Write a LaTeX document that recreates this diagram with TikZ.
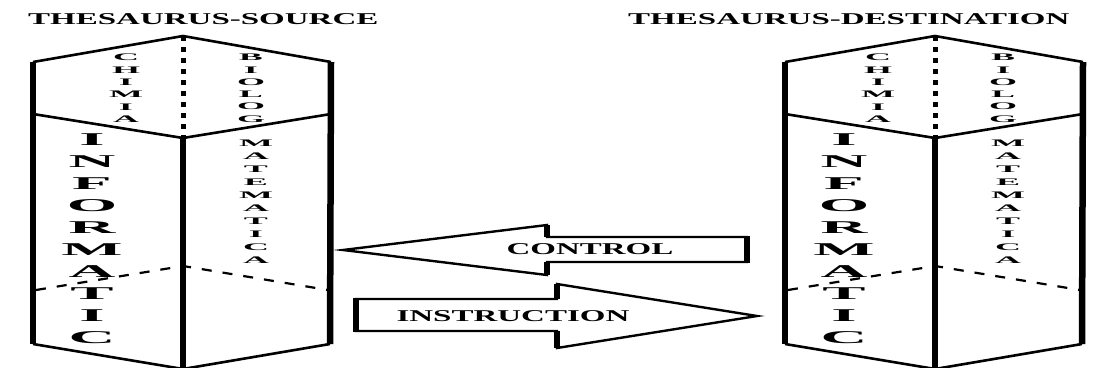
\documentclass[tikz,border=0pt]{standalone}
\usepackage{graphicx}
\usepackage{fontspec}
\setmainfont{Liberation Serif}
\newfontfamily\widefont{Liberation Serif}[FakeStretch=2]
\newfontfamily\stackfont{Liberation Serif}[FakeStretch=3.6]
\usetikzlibrary{positioning}

% one thesaurus drawn as a hexagonal prism, faces labelled by subject
\tikzset{
  thesaurus/.pic={
    % corners of the prism
    \coordinate (-top) at (183,36);
    \coordinate (-ul)  at (33,62);
    \coordinate (-ur)  at (331,62);
    \coordinate (-ml)  at (33,114);
    \coordinate (-mc)  at (183,138);
    \coordinate (-mr)  at (331,114);
    \coordinate (-dl)  at (36,290);
    \coordinate (-dc)  at (183,266);
    \coordinate (-dr)  at (328,290);
    \coordinate (-bl)  at (33,344);
    \coordinate (-bc)  at (183,369);
    \coordinate (-br)  at (330,344);

    % outline
    \draw[rim] (-ul) -- (-top) -- (-ur);
    \draw[rim] (-ml) -- (-mc) -- (-mr);
    \draw[rim] (-bl) -- (-bc) -- (-br);
    \draw[spine] (-top) -- (-mc);
    \draw[backline] (-dl) -- (-dc) -- (-dr);
    \draw[pillar] (-ul) -- (-bl);
    \draw[pillar] (-mc) -- (-bc);
    \draw[pillar] (-ur) -- (-br);

    % subjects
    \node[minor, anchor=north] (-chim) at (126,54)  {C\\H\\I\\M\\I\\A};
    \node[minor, anchor=north] (-biol) at (251,54)  {B\\I\\O\\L\\O\\G};
    \node[major, anchor=north] (-info) at (92,134)  {I\\N\\F\\O\\R\\M\\A\\T\\I\\C};
    \node[minor, anchor=north, font=\stackfont\bfseries\fontsize{10}{13}\selectfont]
      (-mate) at (256,140) {M\\A\\T\\E\\M\\A\\T\\I\\C\\A};
  }
}

\begin{document}
\begin{tikzpicture}[x=1pt, y=-1pt,
  pillar/.style={line width=6.5pt},
  rim/.style={line width=2.6pt},
  spine/.style={line width=5pt, dash pattern=on 5pt off 6pt},
  backline/.style={line width=2.2pt, dash pattern=on 10pt off 11pt},
  minor/.style={font=\stackfont\bfseries\fontsize{10}{12.3}\selectfont,
                align=center, inner sep=0pt},
  major/.style={font=\stackfont\bfseries\fontsize{18}{22}\selectfont,
                align=center, inner sep=0pt},
  heading/.style={font=\widefont\bfseries\fontsize{16.5}{18}\selectfont,
                  inner sep=0pt},
  blockarrow/.style={draw, line width=2.4pt, line join=miter, fill=white},
  butt/.style={line width=6pt},
  label/.style={font=\widefont\bfseries\fontsize{16.5}{18}\selectfont,
                inner sep=0pt}
]
  \useasboundingbox (0,0) rectangle (1100,367);

  % titles
  \node[heading, anchor=west] (srctitle) at (28,19)  {THESAURUS-SOURCE};
  \node[heading, anchor=west] (dsttitle) at (628,19) {THESAURUS-DESTINATION};

  % the two thesauri
  \pic (src) at (0,0)   {thesaurus};
  \pic (dst) at (752,0) {thesaurus};

  % control: destination back to source
  \draw[blockarrow] (343,250) -- (547,225) -- (547,237) -- (747,237)
    -- (747,262) -- (547,262) -- (547,275) -- cycle;
  \draw[butt] (547,225) -- (547,237);
  \draw[butt] (547,262) -- (547,275);
  \draw[butt] (747,236) -- (747,263);
  \node[label] (control) at (590,249) {CONTROL};

  % instruction: source to destination
  \draw[blockarrow] (356,299) -- (557,299) -- (557,284) -- (757,316)
    -- (557,348) -- (557,331) -- (356,331) -- cycle;
  \draw[butt] (557,284) -- (557,299);
  \draw[butt] (557,331) -- (557,348);
  \draw[butt] (356,298) -- (356,332);
  \node[label] (instruction) at (513,316) {INSTRUCTION};
\end{tikzpicture}
\end{document}
